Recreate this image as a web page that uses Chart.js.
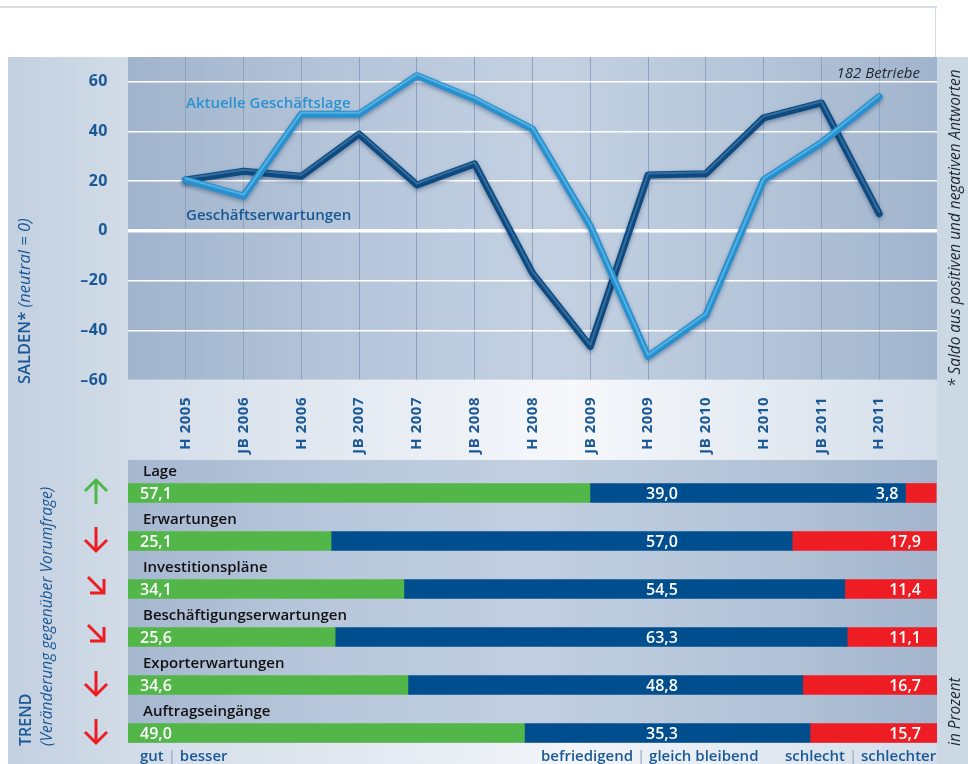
<!DOCTYPE html>
<html>
<head>
<meta charset="utf-8">
<script src="https://cdn.jsdelivr.net/npm/chart.js@4.4.1/dist/chart.umd.min.js"></script>
<style>
  body { margin: 0; width: 968px; height: 764px; overflow: hidden; background: #fff; position: relative; font-family: 'Open Sans', sans-serif; }
  .abs { position: absolute; }
  .rot { position: absolute; transform-origin: 0 0; transform: rotate(-90deg); white-space: nowrap; line-height: 20px; }
  .sep { color: #8ea3bf; font-weight: 400; }
  canvas { position: absolute; }
</style>
</head>
<body>
<!-- frame and backgrounds -->
<div class="abs" style="left:0;top:6px;width:937px;height:2px;background:#d3dde9"></div>
<div class="abs" style="left:935px;top:7px;width:1px;height:50px;background:#d3dde9"></div>
<div class="abs" style="left:8px;top:57px;width:960px;height:707px;background:#ccd8e4"></div>
<div class="abs" style="left:8px;top:57px;width:120px;height:707px;background:linear-gradient(90deg,#c3d0e0,#d2dce8)"></div>
<div class="abs" style="left:128px;top:380px;width:809px;height:80px;background:linear-gradient(90deg,#d2dce8,#f6f8fb 55%,#d4dee9)"></div>
<div class="abs" style="left:128px;top:743px;width:809px;height:21px;background:linear-gradient(90deg,#d2dce8,#f2f5f9 55%,#d4dee9)"></div>
<div class="abs" style="left:128px;top:57px;width:809px;height:323px;background:linear-gradient(90deg,#a1b4cd,#b4c4d9 25%,#c3d1e2 52%,#b5c5d9 78%,#a1b4cd)"></div>
<div class="abs" style="left:128px;top:460px;width:809px;height:283px;background:linear-gradient(90deg,#a6b8d0,#b8c7db 25%,#c1cfe0 50%,#b4c4d8 78%,#a2b5cd)"></div>

<canvas id="lineChart" width="968" height="403" style="left:0;top:57px"></canvas>
<canvas id="barChart" width="968" height="304" style="left:0;top:460px"></canvas>

<!-- texts -->
<div class="abs" style="left:186px;top:92px;font-size:15px;font-weight:600;color:#2a93d1">Aktuelle Geschäftslage</div>
<div class="abs" style="left:186px;top:204px;font-size:15px;font-weight:600;color:#165893">Geschäftserwartungen</div>
<div class="abs" style="right:48px;top:62px;font-size:15px;font-style:italic;color:#1f2630">182 Betriebe</div>

<div class="rot" style="left:14px;top:384px;font-size:16.5px;color:#1b5896"><b style="font-weight:600">SALDEN*</b> <i>(neutral = 0)</i></div>
<div class="rot" style="left:15px;top:746px;font-size:15.5px;color:#1b5896;line-height:21px"><b style="font-weight:600;font-size:16px">TREND</b><br><i>(Veränderung gegenüber Vorumfrage)</i></div>
<div class="rot" style="left:945px;top:387px;font-size:15.4px;font-style:italic;color:#1f2630">* Saldo aus positiven und negativen Antworten</div>
<div class="rot" style="left:945px;top:746px;font-size:15.4px;font-style:italic;color:#1f2630">in Prozent</div>

<div class="abs" style="left:140px;top:745px;font-size:15px;font-weight:600;color:#1b5896">gut <span class="sep">|</span> besser</div>
<div class="abs" style="left:541px;top:745px;font-size:15px;font-weight:600;color:#1b5896">befriedigend <span class="sep">|</span> gleich bleibend</div>
<div class="abs" style="left:785px;top:745px;font-size:15px;font-weight:600;color:#1b5896">schlecht <span class="sep">|</span> schlechter</div>

<svg class="abs" style="left:0;top:0" width="968" height="764" id="arrows"></svg>

<script>
// ===== Data =====
const periods = ['H 2005', 'JB 2006', 'H 2006', 'JB 2007', 'H 2007', 'JB 2008', 'H 2008',
  'JB 2009', 'H 2009', 'JB 2010', 'H 2010', 'JB 2011', 'H 2011'];
const aktuelleLage = [20.5, 14, 47, 47, 62.5, 53, 41, 2, -50.5, -34, 20.5, 35.5, 54];
const erwartungen = [20.5, 24, 22, 39, 18.5, 27, -17, -46.5, 22.5, 23, 45.5, 51.5, 7];
const yTicks = [-60, -40, -20, 0, 20, 40, 60];

const topics = ['Lage', 'Erwartungen', 'Investitionspläne', 'Beschäftigungserwartungen',
  'Exporterwartungen', 'Auftragseingänge'];
const gut = [57.1, 25.1, 34.1, 25.6, 34.6, 49.0];
const befriedigend = [39.0, 57.0, 54.5, 63.3, 48.8, 35.3];
const schlecht = [3.8, 17.9, 11.4, 11.1, 16.7, 15.7];
const trend = ['up', 'down', 'downright', 'downright', 'down', 'down'];

const FONT = "'Open Sans', sans-serif";
const BLUE_TXT = '#1b5896';

// ===== Line chart =====
// empty slots at both ends leave a blank column left and right of the data
const xLabels = ['', ...periods, ''];
const pad = arr => [null, ...arr, null];
const highlights = ['#62bbea', '#3f79aa'];

// shadow under each line, then a thin light stripe on top for the tube look
const lineShadow = {
  id: 'lineShadow',
  beforeDraw(chart) {
    chart.ctx.letterSpacing = '0.5px';
  },
  beforeDatasetDraw(chart) {
    const c = chart.ctx;
    c.save();
    c.shadowColor = 'rgba(10,40,80,0.4)';
    c.shadowBlur = 4;
    c.shadowOffsetY = 2;
  },
  afterDatasetDraw(chart, args) {
    const c = chart.ctx;
    c.restore();
    const pts = args.meta.data.filter(p => !p.skip);
    c.save();
    c.beginPath();
    pts.forEach((p, k) => k ? c.lineTo(p.x, p.y - 1.5) : c.moveTo(p.x, p.y - 1.5));
    c.strokeStyle = highlights[args.index];
    c.globalAlpha = 0.75;
    c.lineWidth = 2;
    c.lineJoin = 'round';
    c.lineCap = 'round';
    c.stroke();
    c.restore();
  }
};

new Chart(document.getElementById('lineChart'), {
  type: 'line',
  data: {
    labels: xLabels,
    datasets: [
      { label: 'Aktuelle Geschäftslage', data: pad(aktuelleLage), borderColor: '#2790cf', borderWidth: 7 },
      { label: 'Geschäftserwartungen', data: pad(erwartungen), borderColor: '#0e4a80', borderWidth: 7 }
    ]
  },
  options: {
    responsive: false,
    animation: false,
    layout: { padding: { left: 0, right: 31, top: 0, bottom: 0 } },
    elements: {
      point: { radius: 0 },
      line: { tension: 0, borderJoinStyle: 'round', borderCapStyle: 'round' }
    },
    plugins: { legend: { display: false }, tooltip: { enabled: false } },
    scales: {
      x: {
        offset: false,
        grid: {
          color: ctx => (ctx.index === 0 || ctx.index === xLabels.length - 1) ? 'rgba(0,0,0,0)' : '#8da2be',
          lineWidth: 1,
          drawTicks: false
        },
        border: { display: false },
        ticks: {
          autoSkip: false, minRotation: 90, maxRotation: 90, padding: 17,
          color: BLUE_TXT, font: { family: FONT, size: 15, weight: 'bold' }
        },
        afterFit(s) { s.height = 80; s.paddingLeft = 0; s.paddingRight = 0; }
      },
      y: {
        min: -60,
        max: 70,
        afterBuildTicks(s) { s.ticks = yTicks.map(v => ({ value: v })); },
        grid: {
          color: ctx => ctx.tick && ctx.tick.value === -60 ? 'rgba(255,255,255,0.25)' : '#ffffff',
          lineWidth: ctx => ctx.tick && ctx.tick.value === 0 ? 3.5 : 1.6,
          drawTicks: false
        },
        border: { display: false },
        ticks: {
          padding: 20,
          color: BLUE_TXT,
          font: { family: FONT, size: 16, weight: 'bold' },
          callback: v => v < 0 ? '–' + Math.abs(v) : String(v)
        },
        afterFit(s) { s.width = 128; s.paddingTop = 0; s.paddingBottom = 0; }
      }
    }
  },
  plugins: [lineShadow]
});

// ===== Bar chart =====
const barLabels = {
  id: 'barLabels',
  afterDatasetsDraw(chart) {
    const c = chart.ctx;
    const xs = chart.scales.x;
    const mGut = chart.getDatasetMeta(0), mSch = chart.getDatasetMeta(2);
    c.save();
    c.textBaseline = 'middle';
    topics.forEach((t, i) => {
      const g = mGut.data[i], s = mSch.data[i];
      const y = g.y;
      c.fillStyle = '#111';
      c.font = `600 15px ${FONT}`;
      c.textAlign = 'left';
      c.fillText(t, 143, y - 21);

      c.fillStyle = '#fff';
      c.font = `600 16px ${FONT}`;
      c.fillText(fmt(gut[i]), g.base + 12, y + 1);
      c.textAlign = 'center';
      c.fillText(fmt(befriedigend[i]), xs.getPixelForValue(66), y + 1);
      c.textAlign = 'right';
      const redW = s.x - s.base;
      const rx = redW < 45 ? s.base - 7 : xs.getPixelForValue(100) - 16;
      c.fillText(fmt(schlecht[i]), rx, y + 1);
    });
    c.restore();
  }
};

function fmt(v) {
  return v.toFixed(1).replace('.', ',');
}

new Chart(document.getElementById('barChart'), {
  type: 'bar',
  data: {
    labels: topics,
    datasets: [
      { label: 'gut | besser', data: gut, backgroundColor: '#52b748' },
      { label: 'befriedigend | gleich bleibend', data: befriedigend, backgroundColor: '#004e8d' },
      { label: 'schlecht | schlechter', data: schlecht, backgroundColor: '#ee1d24' }
    ]
  },
  options: {
    indexAxis: 'y',
    responsive: false,
    animation: false,
    layout: { padding: { left: 128, right: 31, top: 9, bottom: 7 } },
    datasets: { bar: { barThickness: 19, borderWidth: 0 } },
    plugins: { legend: { display: false }, tooltip: { enabled: false } },
    scales: {
      x: { display: false, stacked: true, min: 0, max: 100 },
      y: { display: false, stacked: true }
    }
  },
  plugins: [barLabels]
});

// ===== Trend arrows =====
const svg = document.getElementById('arrows');
trend.forEach((dir, i) => {
  const y0 = 479 + 48 * i;
  let d;
  if (dir === 'up') d = `M96 ${y0 + 25} L96 ${y0 + 1} M85 ${y0 + 12} L96 ${y0 + 1} L107 ${y0 + 12}`;
  else if (dir === 'down') d = `M96 ${y0} L96 ${y0 + 24} M85 ${y0 + 13} L96 ${y0 + 24} L107 ${y0 + 13}`;
  else d = `M88 ${y0 + 2} L104 ${y0 + 18} M90 ${y0 + 18} L104 ${y0 + 18} L104 ${y0 + 4}`;
  const p = document.createElementNS('http://www.w3.org/2000/svg', 'path');
  p.setAttribute('d', d);
  p.setAttribute('fill', 'none');
  p.setAttribute('stroke', dir === 'up' ? '#4db848' : '#ee1d24');
  p.setAttribute('stroke-width', '3');
  svg.appendChild(p);
});
</script>
</body>
</html>
